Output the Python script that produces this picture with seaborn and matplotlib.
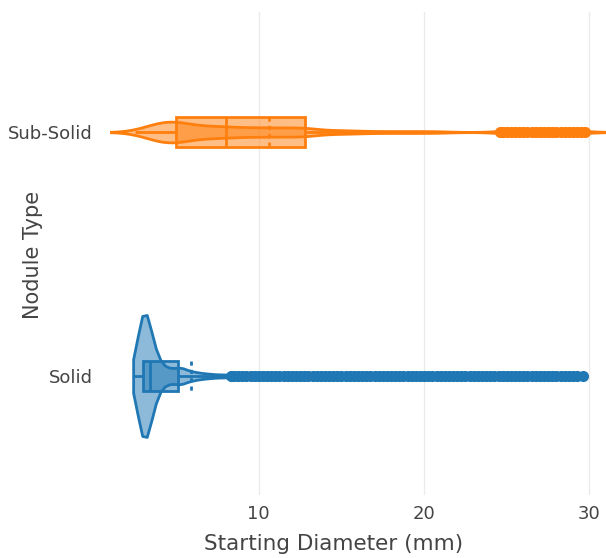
import numpy as np
import pandas as pd
import matplotlib
matplotlib.use("Agg")
import matplotlib.pyplot as plt
import seaborn as sns
from matplotlib.colors import to_rgba

# ---------------- data ----------------
categories = ["Sub-Solid", "Solid"]
colors = ["#ff7f0e", "#1f77b4"]

# Sub-Solid nodules: core values (mm) with counts, plus the outliers
subsolid_values = [2.5, 3.0, 3.5, 4.0, 4.5, 5.0, 5.5, 6.0, 7.0, 8.0, 9.0, 10.0, 11.0,
                   12.0, 12.8, 13.5, 14.0, 14.5, 15.0, 15.5, 16.0, 17.0, 18.0, 19.0,
                   20.0, 21.0]
subsolid_counts = [2, 4, 8, 12, 14, 12, 10, 10, 14, 12, 10, 10, 10,
                   8, 10, 2, 2, 2, 2, 2, 2, 2, 2, 2,
                   2, 2]
subsolid_outliers = [24.6, 24.8, 25.0, 25.25, 25.5, 25.75, 26.0, 26.25, 26.5, 26.75,
                     27.0, 27.25, 27.5, 27.75, 28.0, 28.25, 28.5, 28.75, 29.0, 29.25,
                     29.5, 29.75]

# Solid nodules
solid_values = [2.4, 2.6, 2.8, 3.0, 3.2, 3.4, 3.6, 3.8, 4.0, 4.5, 5.1, 5.5, 6.0,
                6.5, 7.0, 7.5, 8.0]
solid_counts = [6, 20, 50, 120, 80, 50, 30, 24, 20, 24, 24, 16, 12,
                8, 6, 4, 4]
solid_outliers = [8.3, 8.5, 8.75, 9.0, 9.25, 9.5, 9.75, 10.0, 10.25, 10.5, 10.75,
                  11.0, 11.25, 11.5, 11.75, 12.0, 12.25, 12.5, 12.75, 13.0, 13.25,
                  13.5, 13.75, 14.0, 14.25, 14.5, 14.75, 15.0, 15.25, 15.5, 15.75,
                  16.0, 16.25, 16.5, 16.75, 17.0, 17.25, 17.5, 17.75, 18.0, 18.25,
                  18.5, 18.75, 19.0, 19.25, 19.5, 19.75, 20.0, 20.25, 20.5, 20.75,
                  21.0, 21.25, 21.5, 21.75, 22.0, 22.25, 22.5, 22.75, 23.0, 23.25,
                  23.5, 23.75, 24.0, 24.25, 24.5, 24.75, 25.0, 25.25, 25.5, 25.75,
                  26.0, 26.25, 26.5, 26.75, 27.0, 27.25, 27.5, 27.75, 28.0, 28.25,
                  28.5, 28.75, 29.0, 29.25, 29.6]

x_ticks = [10, 20, 30]
x_label = "Starting Diameter (mm)"
y_label = "Nodule Type"

# ---------------- build table ----------------
sub_d = list(np.repeat(subsolid_values, subsolid_counts)) + subsolid_outliers
sol_d = list(np.repeat(solid_values, solid_counts)) + solid_outliers
df = pd.DataFrame({
    "diameter": sub_d + sol_d,
    "type": ["Sub-Solid"] * len(sub_d) + ["Solid"] * len(sol_d),
})

# ---------------- plot ----------------
plt.rcParams["font.family"] = ["DejaVu Sans"]
fig = plt.figure(figsize=(6.06, 5.58), dpi=100)
ax = fig.add_axes([0.1815, 0.1129, 0.8185, 0.8656])

violin_width = {"Sub-Solid": 0.085, "Solid": 0.5}
violin_bw = {"Sub-Solid": 0.34, "Solid": 0.195}
violin_cut = {"Sub-Solid": 2, "Solid": 0}

for cat, col in zip(categories, colors):
    sub = df[df["type"] == cat]
    n0 = len(ax.collections)
    sns.violinplot(data=sub, x="diameter", y="type", order=categories, orient="h",
                   color=col, linecolor=col, linewidth=2, inner=None,
                   cut=violin_cut[cat], width=violin_width[cat],
                   bw_adjust=violin_bw[cat], density_norm="width",
                   saturation=1, ax=ax)
    for c in ax.collections[n0:]:
        c.set_facecolor(to_rgba(col, 0.5))
        c.set_edgecolor(col)
        c.set_zorder(2)

for cat, col in zip(categories, colors):
    sub = df[df["type"] == cat]
    p0 = len(ax.patches)
    l0 = len(ax.lines)
    sns.boxplot(data=sub, x="diameter", y="type", order=categories, orient="h",
                color=col, linecolor=col, linewidth=2, width=0.123,
                saturation=1, showcaps=False, showmeans=True, meanline=True,
                fliersize=7,
                meanprops=dict(color=col, linestyle=(0, (1.5, 1.5)), linewidth=2),
                medianprops=dict(color=col, linewidth=2),
                whiskerprops=dict(color=col, linewidth=2),
                flierprops=dict(marker="o", markerfacecolor=col,
                                markeredgecolor=col, markersize=7),
                ax=ax)
    for p in ax.patches[p0:]:
        p.set_facecolor(to_rgba(col, 0.5))
        p.set_edgecolor(col)
        p.set_zorder(3)
    for ln in ax.lines[l0:]:
        ln.set_zorder(4)

ax.set_xlim(1.0, 31.0)
ax.set_ylim(1.488, -0.492)
ax.set_xticks(x_ticks)
ax.set_xticklabels([str(t) for t in x_ticks])
ax.set_yticks([0, 1])
ax.set_yticklabels(categories)

for s in ax.spines.values():
    s.set_visible(False)
ax.grid(axis="x", color="#ebebeb", linewidth=1)
ax.grid(axis="y", visible=False)
ax.set_axisbelow(True)
ax.tick_params(axis="both", length=0, colors="#444444", labelsize=13)
ax.tick_params(axis="y", pad=12.5)
ax.tick_params(axis="x", pad=7)

ax.set_xlabel(x_label, fontsize=15.5, color="#444444")
ax.set_ylabel(y_label, fontsize=15, color="#444444")
ax.xaxis.set_label_coords(0.5 + (334 - 358) / 496, -0.08)
ax.yaxis.set_label_coords((33 - 110) / 496, 0.497)
ax.yaxis.label.set_va("center")

fig.savefig("out.png", dpi=100, facecolor="white")
